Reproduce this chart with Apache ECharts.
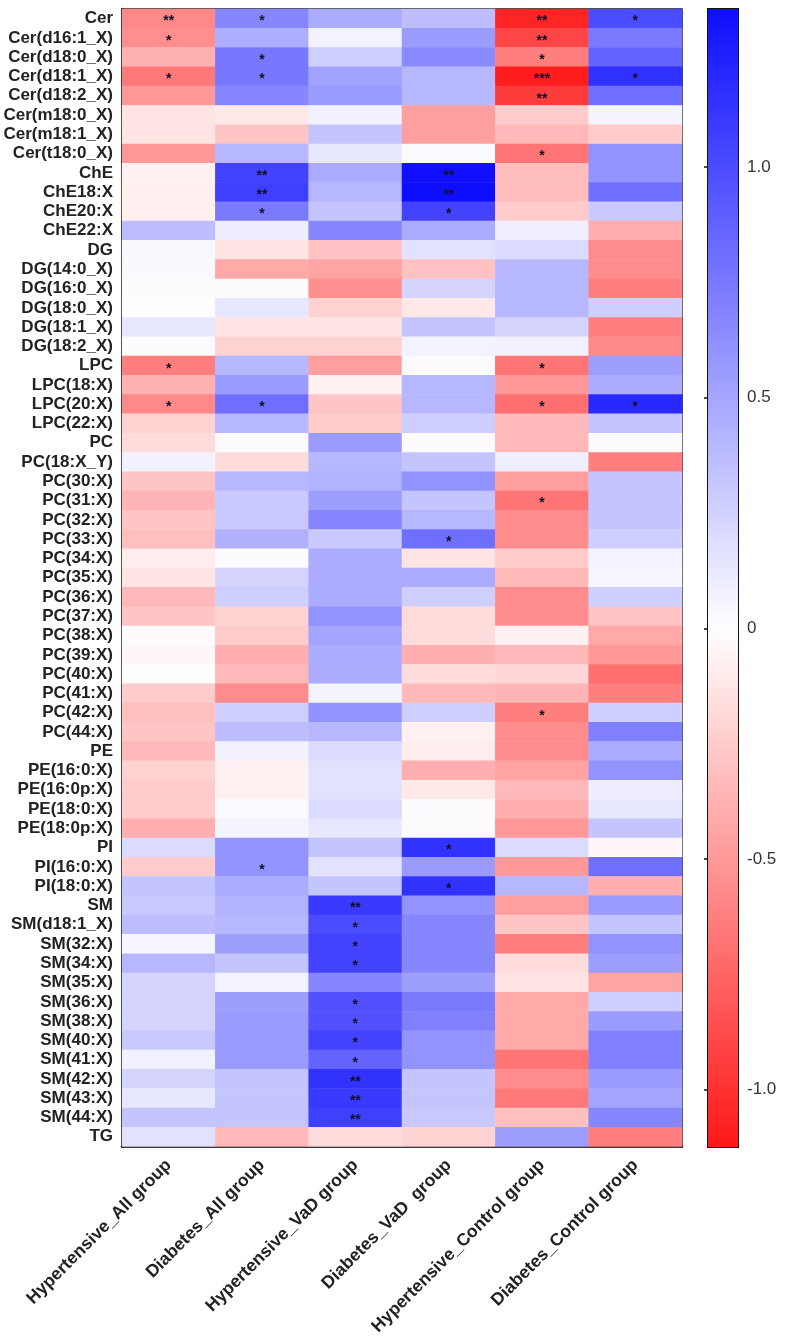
<!DOCTYPE html>
<html>
<head>
<meta charset="utf-8">
<script src="https://cdn.jsdelivr.net/npm/echarts@6/dist/echarts.min.js"></script>
<style>html,body{margin:0;padding:0;background:#fff}#chart{width:787px;height:1338px}</style>
</head>
<body>
<div id="chart"></div>
<script>
const groups = ['Hypertensive_All group','Diabetes_All group','Hypertensive_VaD group','Diabetes_VaD  group','Hypertensive_Control group','Diabetes_Control group'];
const lipids = ['Cer','Cer(d16:1_X)','Cer(d18:0_X)','Cer(d18:1_X)','Cer(d18:2_X)','Cer(m18:0_X)','Cer(m18:1_X)','Cer(t18:0_X)',
  'ChE','ChE18:X','ChE20:X','ChE22:X',
  'DG','DG(14:0_X)','DG(16:0_X)','DG(18:0_X)','DG(18:1_X)','DG(18:2_X)',
  'LPC','LPC(18:X)','LPC(20:X)','LPC(22:X)',
  'PC','PC(18:X_Y)','PC(30:X)','PC(31:X)','PC(32:X)','PC(33:X)','PC(34:X)','PC(35:X)','PC(36:X)','PC(37:X)','PC(38:X)','PC(39:X)','PC(40:X)','PC(41:X)','PC(42:X)','PC(44:X)',
  'PE','PE(16:0:X)','PE(16:0p:X)','PE(18:0:X)','PE(18:0p:X)',
  'PI','PI(16:0:X)','PI(18:0:X)',
  'SM','SM(d18:1_X)','SM(32:X)','SM(34:X)','SM(35:X)','SM(36:X)','SM(38:X)','SM(40:X)','SM(41:X)','SM(42:X)','SM(43:X)','SM(44:X)',
  'TG'];

const hypertensiveAll = [-0.58,-0.55,-0.38,-0.65,-0.5,-0.13,-0.13,-0.5,
  -0.07,-0.08,-0.08,0.37,
  0.04,0.03,0.01,-0.01,0.13,0.0,
  -0.62,-0.38,-0.58,-0.22,
  -0.17,0.08,-0.28,-0.36,-0.28,-0.31,-0.09,-0.13,-0.34,-0.28,-0.02,-0.04,-0.01,-0.25,-0.31,-0.28,
  -0.34,-0.22,-0.25,-0.25,-0.39,
  0.2,-0.25,0.33,
  0.3,0.37,0.05,0.4,0.24,0.24,0.24,0.3,0.08,0.24,0.13,0.33,
  0.16];
const diabetesAll = [0.67,0.45,0.75,0.75,0.67,-0.11,-0.28,0.4,
  1.05,1.07,0.74,0.1,
  -0.13,-0.42,0.0,0.13,-0.13,-0.22,
  0.4,0.56,0.8,0.4,
  0.01,-0.17,0.4,0.3,0.3,0.44,0.0,0.24,0.27,-0.22,-0.25,-0.39,-0.34,-0.56,0.27,0.37,
  0.08,-0.07,-0.07,0.02,0.06,
  0.6,0.6,0.47,
  0.43,0.4,0.54,0.33,0.07,0.54,0.56,0.56,0.56,0.33,0.33,0.33,
  -0.34];
const hypertensiveVaD = [0.47,0.07,0.27,0.52,0.56,0.08,0.33,0.13,
  0.47,0.4,0.33,0.67,
  -0.3,-0.45,-0.55,-0.22,-0.13,-0.22,
  -0.47,-0.07,-0.28,-0.25,
  0.56,0.4,0.43,0.54,0.67,0.3,0.47,0.47,0.47,0.6,0.5,0.47,0.47,0.06,0.6,0.4,
  0.2,0.16,0.16,0.2,0.13,
  0.33,0.16,0.33,
  1.1,1.0,1.05,1.05,0.67,0.97,0.97,1.05,0.87,1.14,1.1,1.07,
  -0.17];
const diabetesVaD = [0.37,0.55,0.65,0.4,0.4,-0.47,-0.47,0.02,
  1.33,1.34,1.05,0.47,
  0.16,-0.3,0.24,-0.11,0.33,0.07,
  0.0,0.4,0.4,0.27,
  0.0,0.33,0.6,0.33,0.4,0.8,-0.13,0.47,0.27,-0.17,-0.17,-0.39,-0.17,-0.34,0.27,-0.07,
  -0.09,-0.39,-0.11,0.0,0.0,
  1.14,0.56,1.14,
  0.6,0.67,0.67,0.67,0.54,0.74,0.7,0.6,0.6,0.33,0.33,0.3,
  -0.22];
const hypertensiveControl = [-1.06,-0.9,-0.62,-1.1,-0.95,-0.25,-0.34,-0.67,
  -0.32,-0.32,-0.25,0.09,
  0.2,0.4,0.4,0.4,0.24,0.08,
  -0.67,-0.5,-0.7,-0.34,
  -0.34,0.09,-0.47,-0.67,-0.56,-0.56,-0.25,-0.34,-0.56,-0.56,-0.07,-0.34,-0.2,-0.36,-0.62,-0.56,
  -0.56,-0.45,-0.34,-0.39,-0.5,
  0.2,-0.5,0.4,
  -0.47,-0.28,-0.62,-0.17,-0.13,-0.42,-0.42,-0.42,-0.67,-0.56,-0.65,-0.31,
  0.54];
const diabetesControl = [1.0,0.74,0.87,1.15,0.8,0.06,-0.25,0.6,
  0.6,0.8,0.3,-0.4,
  -0.56,-0.56,-0.62,0.27,-0.62,-0.58,
  0.54,0.47,1.2,0.33,
  0.0,-0.62,0.33,0.33,0.33,0.27,0.07,0.05,0.27,-0.28,-0.42,-0.5,-0.7,-0.62,0.27,0.7,
  0.47,0.6,0.1,0.13,0.33,
  -0.04,0.8,-0.39,
  0.56,0.33,0.6,0.54,-0.45,0.27,0.56,0.7,0.7,0.56,0.5,0.67,
  -0.62];

// significance marks: [lipid, mark]
const sigHypertensiveAll = [['Cer','**'],['Cer(d16:1_X)','*'],['Cer(d18:1_X)','*'],['LPC','*'],['LPC(20:X)','*']];
const sigDiabetesAll = [['Cer','*'],['Cer(d18:0_X)','*'],['Cer(d18:1_X)','*'],['ChE','**'],['ChE18:X','**'],['ChE20:X','*'],['LPC(20:X)','*'],['PI(16:0:X)','*']];
const sigHypertensiveVaD = [['SM','**'],['SM(d18:1_X)','*'],['SM(32:X)','*'],['SM(34:X)','*'],['SM(36:X)','*'],['SM(38:X)','*'],['SM(40:X)','*'],['SM(41:X)','*'],['SM(42:X)','**'],['SM(43:X)','**'],['SM(44:X)','**']];
const sigDiabetesVaD = [['ChE','**'],['ChE18:X','**'],['ChE20:X','*'],['PC(33:X)','*'],['PI','*'],['PI(18:0:X)','*']];
const sigHypertensiveControl = [['Cer','**'],['Cer(d16:1_X)','**'],['Cer(d18:0_X)','*'],['Cer(d18:1_X)','***'],['Cer(d18:2_X)','**'],['Cer(t18:0_X)','*'],['LPC','*'],['LPC(20:X)','*'],['PC(31:X)','*'],['PC(42:X)','*']];
const sigDiabetesControl = [['Cer','*'],['Cer(d18:1_X)','*'],['LPC(20:X)','*']];

const colorbarTicks = [-1.0,-0.5,0,0.5,1.0];
const scaleMin = -1.124, scaleMax = 1.342;

const columns = [hypertensiveAll, diabetesAll, hypertensiveVaD, diabetesVaD, hypertensiveControl, diabetesControl];
const sigs = [sigHypertensiveAll, sigDiabetesAll, sigHypertensiveVaD, sigDiabetesVaD, sigHypertensiveControl, sigDiabetesControl];

const data = [];
columns.forEach((col, gi) => {
  const sm = {};
  sigs[gi].forEach(([l, m]) => { sm[l] = m; });
  col.forEach((v, ri) => { data.push({value: [gi, ri, v], mark: sm[lipids[ri]] || ''}); });
});

const RED = [255, 24, 24], BLUE = [14, 14, 255], WHITE = [255, 255, 255];
function mix(a, b, t) { return 'rgb(' + a.map((x, i) => Math.round(x + (b[i] - x) * t)).join(',') + ')'; }
function colorAt(v) {
  if (v < 0) return mix(WHITE, RED, Math.min(1, v / scaleMin));
  return mix(WHITE, BLUE, Math.min(1, v / scaleMax));
}
const N = 61;
const rampColors = [];
for (let i = 0; i < N; i++) rampColors.push(colorAt(scaleMin + (scaleMax - scaleMin) * i / (N - 1)));
const gradStops = [];
for (let i = 0; i < N; i++) gradStops.push({offset: i / (N - 1), color: colorAt(scaleMax - (scaleMax - scaleMin) * i / (N - 1))});

const chart = echarts.init(document.getElementById('chart'), null, {renderer: 'canvas'});
const FONT = 'Liberation Sans, Arial, sans-serif';
chart.setOption({
  animation: false,
  backgroundColor: '#fff',
  grid: [
    {left: 122, top: 9, width: 560, height: 1138, show: true, borderColor: '#111', borderWidth: 1.5, backgroundColor: 'transparent'},
    {left: 708, top: 9, width: 30, height: 1138, show: true, borderColor: '#111', borderWidth: 2, backgroundColor: 'transparent'}
  ],
  xAxis: [
    {type: 'category', gridIndex: 0, data: groups, position: 'bottom',
     axisLine: {show: true, lineStyle: {color: '#111', width: 2.5}},
     axisTick: {show: false}, splitLine: {show: false},
     axisLabel: {rotate: 45, margin: 16, fontSize: 17.5, fontWeight: 'bold', color: '#222', fontFamily: FONT, interval: 0}},
    {type: 'value', gridIndex: 1, min: 0, max: 1, show: false}
  ],
  yAxis: [
    {type: 'category', gridIndex: 0, data: lipids, inverse: true,
     axisLine: {show: true, lineStyle: {color: '#111', width: 2.5}},
     axisTick: {show: false}, splitLine: {show: false},
     axisLabel: {margin: 9, fontSize: 17, fontWeight: 'bold', color: '#222', fontFamily: FONT, interval: 0}},
    {type: 'value', gridIndex: 1, min: scaleMin, max: scaleMax, position: 'right',
     axisLine: {show: false}, splitLine: {show: false},
     axisTick: {show: true, inside: true, length: 4, lineStyle: {color: '#111', width: 1.5}, customValues: colorbarTicks},
     axisLabel: {show: true, margin: 9, fontSize: 17, color: '#333', fontFamily: FONT, customValues: colorbarTicks,
       formatter: v => (Math.abs(v) < 1e-9 ? '0' : Number(v).toFixed(1))}},
    {type: 'value', gridIndex: 1, min: scaleMin, max: scaleMax, position: 'left',
     axisLine: {show: false}, splitLine: {show: false},
     axisTick: {show: true, inside: true, length: 4, lineStyle: {color: '#111', width: 1.5}, customValues: colorbarTicks},
     axisLabel: {show: false}}
  ],
  visualMap: {show: false, type: 'continuous', min: scaleMin, max: scaleMax, dimension: 2, seriesIndex: 0, inRange: {color: rampColors}},
  series: [
    {type: 'heatmap', xAxisIndex: 0, yAxisIndex: 0, data: data,
     itemStyle: {borderWidth: 0},
     label: {show: true, formatter: p => p.data.mark, fontSize: 14, fontWeight: 'bold', color: '#10102a', offset: [0, 3], fontFamily: FONT},
     emphasis: {disabled: true}},
    {type: 'custom', xAxisIndex: 1, yAxisIndex: 1, silent: true, data: [[scaleMin, scaleMax]],
     renderItem: (params, api) => {
       const p1 = api.coord([0, api.value(1)]);
       const p2 = api.coord([1, api.value(0)]);
       return {type: 'rect', shape: {x: p1[0], y: p1[1], width: p2[0] - p1[0], height: p2[1] - p1[1]},
               style: {fill: new echarts.graphic.LinearGradient(0, 0, 0, 1, gradStops)}, z2: 0};
     }}
  ]
});
</script>
</body>
</html>
